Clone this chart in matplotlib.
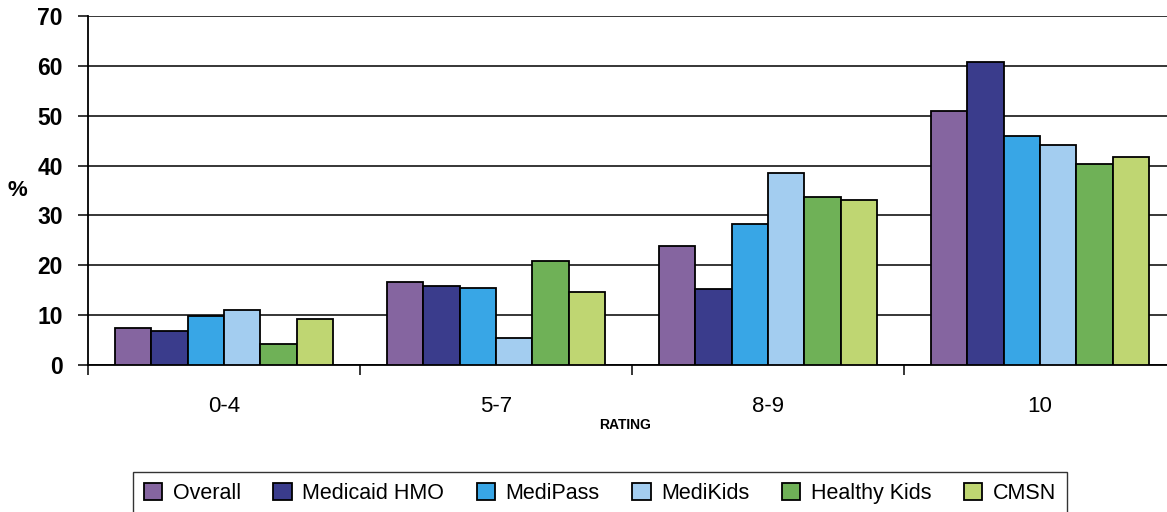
"""Rating distribution by program, grouped bars (recreated chart)."""

import matplotlib

matplotlib.use("Agg")
import matplotlib.pyplot as plt
import numpy as np

ratings = ["0-4", "5-7", "8-9", "10"]
programs = ["Overall", "Medicaid HMO", "MediPass", "MediKids", "Healthy Kids", "CMSN"]
colors = ["#8565A0", "#3A3C8C", "#38A6E6", "#A3CDF0", "#6FB157", "#BFD672"]

overall = [7.4, 16.6, 23.9, 50.9]
medicaid_hmo = [6.8, 15.9, 15.3, 60.8]
medipass = [9.9, 15.4, 28.2, 46.0]
medikids = [11.0, 5.5, 38.6, 44.1]
healthy_kids = [4.3, 20.9, 33.7, 40.4]
cmsn = [9.2, 14.7, 33.1, 41.7]
series = [overall, medicaid_hmo, medipass, medikids, healthy_kids, cmsn]

yticks = [0, 10, 20, 30, 40, 50, 60, 70]

plt.rcParams["font.family"] = ["Liberation Sans", "DejaVu Sans"]

W, H = 1167, 512
fig = plt.figure(figsize=(W / 100, H / 100), dpi=100)
ax = fig.add_axes([88 / W, (H - 365) / H, 1088 / W, 349 / H])

x = np.arange(len(ratings))
bw = 0.8 / len(series)
for i, (vals, name, c) in enumerate(zip(series, programs, colors)):
    ax.bar(x - 0.4 + bw * (i + 0.5), vals, width=bw, color=c, edgecolor="black",
           linewidth=1.3, label=name, zorder=3)

ax.set_xlim(-0.5, len(ratings) - 0.5)
ax.set_ylim(0, 70)
ax.set_yticks(yticks)
ax.set_yticklabels([str(v) for v in yticks], fontsize=16.5, fontweight="bold")
ax.yaxis.grid(True, color="black", linewidth=1.1, zorder=0)
ax.set_axisbelow(True)
ax.tick_params(axis="y", direction="out", length=7, width=1.1, pad=11)

# group boundaries get the tick marks, names sit in the middle
ax.set_xticks(np.arange(len(ratings) + 1) - 0.5)
ax.set_xticklabels([])
ax.tick_params(axis="x", direction="out", length=7, width=1.1)
ax.set_xticks(x, minor=True)
ax.set_xticklabels(ratings, minor=True, fontsize=16)
ax.tick_params(axis="x", which="minor", length=0, pad=22)

for s in ["top", "right"]:
    ax.spines[s].set_visible(False)
ax.spines["left"].set_linewidth(1.3)
ax.spines["bottom"].set_linewidth(1.3)

fig.text(17 / W, 1 - 190 / H, "%", fontsize=16, fontweight="bold", ha="center", va="center")
fig.text(625 / W, 1 - 425 / H, "RATING", fontsize=10, fontweight="bold", ha="center", va="center")

leg = fig.legend(loc="upper left", bbox_to_anchor=(133 / W, 1 - 472 / H, (1067 - 133) / W, 0),
                 mode="expand", ncol=6, fontsize=15.5, frameon=True, fancybox=False,
                 handlelength=0.85, handleheight=0.85, handletextpad=0.5, borderaxespad=0,
                 borderpad=0.5)
leg.get_frame().set_edgecolor("black")
leg.get_frame().set_linewidth(1.0)

fig.savefig("out.png", dpi=100)
